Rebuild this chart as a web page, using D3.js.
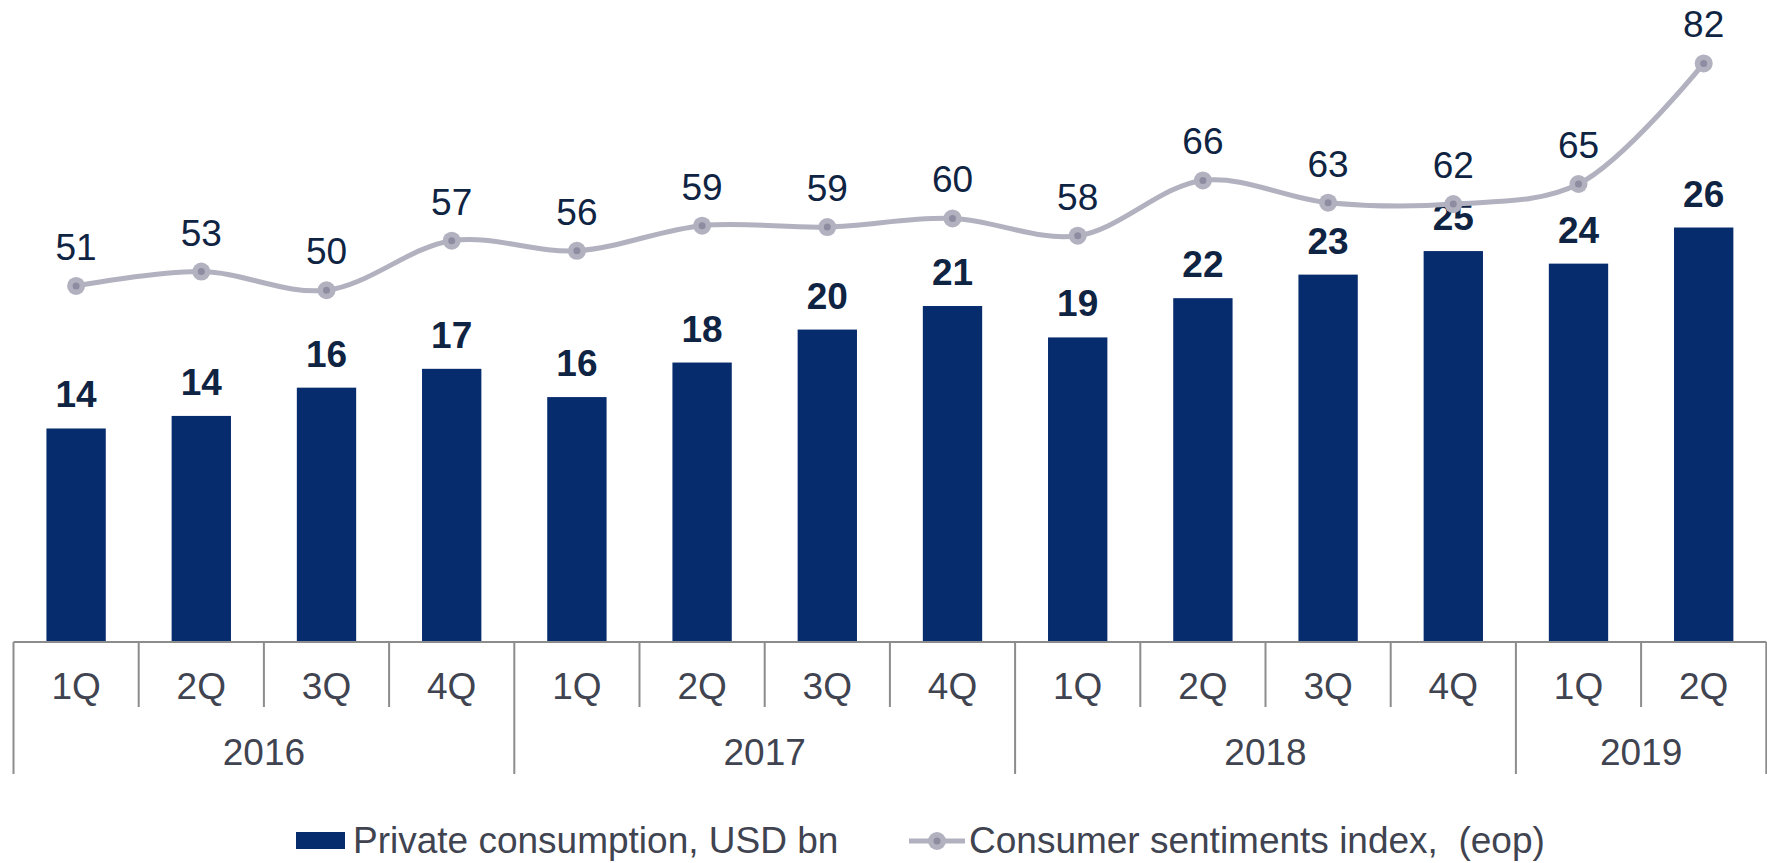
<!DOCTYPE html>
<html>
<head>
<meta charset="utf-8">
<script src="https://cdn.jsdelivr.net/npm/d3@7"></script>
<style>
  body { margin: 0; background: #fff; }
  svg { display: block; font-family: "Liberation Sans", Arial, sans-serif; }
</style>
</head>
<body>
<div id="chart"></div>
<script>
// data
var quarters = ["1Q", "2Q", "3Q", "4Q", "1Q", "2Q", "3Q", "4Q", "1Q", "2Q", "3Q", "4Q", "1Q", "2Q"];
var years = ["2016", "2017", "2018", "2019"];
var yearSpans = [4, 4, 4, 2];
var consumption = [13.6, 14.4, 16.2, 17.4, 15.6, 17.8, 19.9, 21.4, 19.4, 21.9, 23.4, 24.9, 24.1, 26.4];
var sentiment = [51, 53, 50.4, 57.3, 55.9, 59.4, 59.2, 60.4, 58.0, 65.7, 62.6, 62.4, 65.2, 82];
var legendLabels = ["Private consumption, USD bn", "Consumer sentiments index,  (eop)"];

var svgWidth = 1767;
var svgHeight = 863;
var fontSize = 37;

var barColor = "#072c6e";
var lineColor = "#b2b1bf";
var dotColor = "#8e8ca0";
var navyText = "#0f2342";
var axisText = "#404350";
var axisColor = "#8c8c8c";

var svg = d3.select("#chart")
  .append("svg")
  .attr("width", svgWidth)
  .attr("height", svgHeight);

var idx = d3.range(quarters.length);

// scales
var x = d3.scaleBand()
  .domain(idx)
  .range([13.5, 1766.3])
  .padding(0);

var y = d3.scaleLinear()
  .domain([0, 30])
  .range([642, 171]);

var y2 = d3.scaleLinear()
  .domain([0, 90])
  .range([652, 6]);

var barW = x.bandwidth() * 0.474;
var cx = function(i) { return x(i) + x.bandwidth() / 2; };

// bars
svg.append("g").selectAll("rect")
  .data(consumption)
  .enter()
  .append("rect")
  .attr("x", (d, i) => cx(i) - barW / 2)
  .attr("y", d => y(d))
  .attr("width", barW)
  .attr("height", d => y(0) - y(d))
  .attr("fill", barColor);

// bar labels
svg.append("g").selectAll("text")
  .data(consumption)
  .enter()
  .append("text")
  .attr("x", (d, i) => cx(i))
  .attr("y", d => y(d) - 21)
  .attr("text-anchor", "middle")
  .attr("font-size", fontSize)
  .attr("font-weight", "bold")
  .attr("fill", navyText)
  .text(d => Math.round(d));

// sentiment line
var line = d3.line()
  .x((d, i) => cx(i))
  .y(d => y2(d))
  .curve(d3.curveCatmullRom);

svg.append("path")
  .datum(sentiment)
  .attr("d", line)
  .attr("fill", "none")
  .attr("stroke", lineColor)
  .attr("stroke-width", 5);

var markers = svg.append("g").selectAll("g")
  .data(sentiment)
  .enter()
  .append("g")
  .attr("transform", (d, i) => `translate(${cx(i)}, ${y2(d)})`);

markers.append("circle").attr("r", 9).attr("fill", lineColor);
markers.append("circle").attr("r", 3.5).attr("fill", dotColor);

svg.append("g").selectAll("text")
  .data(sentiment)
  .enter()
  .append("text")
  .attr("x", (d, i) => cx(i))
  .attr("y", d => y2(d) - 26)
  .attr("text-anchor", "middle")
  .attr("font-size", fontSize)
  .attr("fill", navyText)
  .text(d => Math.round(d));

// category axis
var axisG = svg.append("g");

axisG.append("line")
  .attr("x1", x(0))
  .attr("x2", x(idx.length - 1) + x.bandwidth())
  .attr("y1", y(0))
  .attr("y2", y(0))
  .attr("stroke", axisColor)
  .attr("stroke-width", 2);

// year boundaries
var bounds = [0];
yearSpans.forEach(s => bounds.push(bounds[bounds.length - 1] + s));
var edge = function(k) { return k < idx.length ? x(k) : x(idx.length - 1) + x.bandwidth(); };

axisG.selectAll(".qtick")
  .data(idx.filter(i => bounds.indexOf(i) < 0))
  .enter()
  .append("line")
  .attr("x1", i => x(i))
  .attr("x2", i => x(i))
  .attr("y1", y(0))
  .attr("y2", 707)
  .attr("stroke", axisColor)
  .attr("stroke-width", 2);

axisG.selectAll(".ytick")
  .data(bounds)
  .enter()
  .append("line")
  .attr("x1", k => edge(k))
  .attr("x2", k => edge(k))
  .attr("y1", y(0))
  .attr("y2", 774)
  .attr("stroke", axisColor)
  .attr("stroke-width", 2);

axisG.selectAll(".qlabel")
  .data(quarters)
  .enter()
  .append("text")
  .attr("x", (d, i) => cx(i))
  .attr("y", 699)
  .attr("text-anchor", "middle")
  .attr("font-size", fontSize)
  .attr("fill", axisText)
  .text(d => d);

axisG.selectAll(".ylabel")
  .data(years)
  .enter()
  .append("text")
  .attr("x", (d, i) => (edge(bounds[i]) + edge(bounds[i + 1])) / 2)
  .attr("y", 765)
  .attr("text-anchor", "middle")
  .attr("font-size", fontSize)
  .attr("fill", axisText)
  .text(d => d);

// legend
var legend = svg.append("g");

legend.append("rect")
  .attr("x", 296)
  .attr("y", 832)
  .attr("width", 49)
  .attr("height", 17)
  .attr("fill", barColor);

legend.append("text")
  .attr("x", 353)
  .attr("y", 853)
  .attr("font-size", fontSize)
  .attr("fill", axisText)
  .text(legendLabels[0]);

legend.append("line")
  .attr("x1", 909)
  .attr("x2", 965)
  .attr("y1", 841)
  .attr("y2", 841)
  .attr("stroke", lineColor)
  .attr("stroke-width", 5);

legend.append("circle").attr("cx", 937).attr("cy", 841).attr("r", 9).attr("fill", lineColor);
legend.append("circle").attr("cx", 937).attr("cy", 841).attr("r", 3.5).attr("fill", dotColor);

legend.append("text")
  .attr("x", 969)
  .attr("y", 853)
  .attr("font-size", fontSize)
  .attr("fill", axisText)
  .style("white-space", "pre")
  .text(legendLabels[1]);
</script>
</body>
</html>
